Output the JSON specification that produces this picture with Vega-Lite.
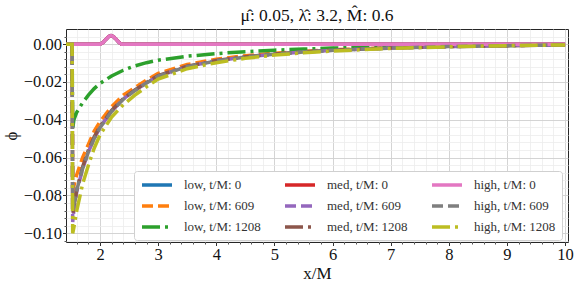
{
  "$schema": "https://vega.github.io/schema/vega-lite/v6.json",
  "width": 502,
  "height": 213,
  "autosize": "none",
  "padding": {"left": 66, "top": 29, "right": 14, "bottom": 44},
  "background": "white",
  "title": {"text": "μ̂: 0.05, λ̂: 3.2, M̂: 0.6", "font": "Liberation Serif", "fontSize": 17.5, "fontWeight": "normal", "color": "#111", "offset": 5, "anchor": "middle"},
  "config": {
    "view": {"stroke": "#262626", "strokeWidth": 1},
    "axis": {"labelFont": "Liberation Serif", "titleFont": "Liberation Serif", "labelColor": "#111", "titleColor": "#111", "titleFontWeight": "normal", "domain": false, "tickColor": "#333"}
  },
  "data": {"values": [
    {"s":"low, t/M: 0","x":1.415,"y":0},{"s":"low, t/M: 0","x":2.0,"y":0},{"s":"low, t/M: 0","x":2.05,"y":0.0008},{"s":"low, t/M: 0","x":2.1,"y":0.0025},{"s":"low, t/M: 0","x":2.15,"y":0.004},{"s":"low, t/M: 0","x":2.19,"y":0.0045},{"s":"low, t/M: 0","x":2.23,"y":0.004},{"s":"low, t/M: 0","x":2.28,"y":0.0025},{"s":"low, t/M: 0","x":2.33,"y":0.0008},{"s":"low, t/M: 0","x":2.37,"y":0},{"s":"low, t/M: 0","x":10.0,"y":0},
    {"s":"low, t/M: 609","x":1.415,"y":0},{"s":"low, t/M: 609","x":1.52,"y":0},{"s":"low, t/M: 609","x":1.53,"y":-0.080},{"s":"low, t/M: 609","x":1.55,"y":-0.075},{"s":"low, t/M: 609","x":1.6,"y":-0.069},{"s":"low, t/M: 609","x":1.7,"y":-0.060},{"s":"low, t/M: 609","x":1.8,"y":-0.053},{"s":"low, t/M: 609","x":1.9,"y":-0.046},{"s":"low, t/M: 609","x":2.0,"y":-0.041},{"s":"low, t/M: 609","x":2.2,"y":-0.033},{"s":"low, t/M: 609","x":2.4,"y":-0.027},{"s":"low, t/M: 609","x":2.6,"y":-0.023},{"s":"low, t/M: 609","x":2.8,"y":-0.019},{"s":"low, t/M: 609","x":3.0,"y":-0.0155},{"s":"low, t/M: 609","x":3.5,"y":-0.0108},{"s":"low, t/M: 609","x":4.0,"y":-0.008},{"s":"low, t/M: 609","x":4.5,"y":-0.0061},{"s":"low, t/M: 609","x":5.0,"y":-0.0048},{"s":"low, t/M: 609","x":5.5,"y":-0.0038},{"s":"low, t/M: 609","x":6.0,"y":-0.003},{"s":"low, t/M: 609","x":7.0,"y":-0.0019},{"s":"low, t/M: 609","x":8.0,"y":-0.0012},{"s":"low, t/M: 609","x":9.0,"y":-0.0007},{"s":"low, t/M: 609","x":10.0,"y":-0.0004},
    {"s":"low, t/M: 1208","x":1.415,"y":0},{"s":"low, t/M: 1208","x":1.52,"y":0},{"s":"low, t/M: 1208","x":1.53,"y":-0.045},{"s":"low, t/M: 1208","x":1.55,"y":-0.040},{"s":"low, t/M: 1208","x":1.6,"y":-0.036},{"s":"low, t/M: 1208","x":1.7,"y":-0.031},{"s":"low, t/M: 1208","x":1.8,"y":-0.027},{"s":"low, t/M: 1208","x":1.9,"y":-0.0235},{"s":"low, t/M: 1208","x":2.0,"y":-0.0208},{"s":"low, t/M: 1208","x":2.2,"y":-0.0168},{"s":"low, t/M: 1208","x":2.4,"y":-0.0138},{"s":"low, t/M: 1208","x":2.6,"y":-0.0115},{"s":"low, t/M: 1208","x":2.8,"y":-0.0098},{"s":"low, t/M: 1208","x":3.0,"y":-0.0085},{"s":"low, t/M: 1208","x":3.5,"y":-0.0064},{"s":"low, t/M: 1208","x":4.0,"y":-0.005},{"s":"low, t/M: 1208","x":4.5,"y":-0.004},{"s":"low, t/M: 1208","x":5.0,"y":-0.0032},{"s":"low, t/M: 1208","x":5.5,"y":-0.0026},{"s":"low, t/M: 1208","x":6.0,"y":-0.0021},{"s":"low, t/M: 1208","x":7.0,"y":-0.0014},{"s":"low, t/M: 1208","x":8.0,"y":-0.001},{"s":"low, t/M: 1208","x":9.0,"y":-0.0007},{"s":"low, t/M: 1208","x":10.0,"y":-0.0005},
    {"s":"med, t/M: 0","x":1.415,"y":0},{"s":"med, t/M: 0","x":2.0,"y":0},{"s":"med, t/M: 0","x":2.05,"y":0.0008},{"s":"med, t/M: 0","x":2.1,"y":0.0025},{"s":"med, t/M: 0","x":2.15,"y":0.004},{"s":"med, t/M: 0","x":2.19,"y":0.0045},{"s":"med, t/M: 0","x":2.23,"y":0.004},{"s":"med, t/M: 0","x":2.28,"y":0.0025},{"s":"med, t/M: 0","x":2.33,"y":0.0008},{"s":"med, t/M: 0","x":2.37,"y":0},{"s":"med, t/M: 0","x":10.0,"y":0},
    {"s":"med, t/M: 609","x":1.415,"y":0},{"s":"med, t/M: 609","x":1.52,"y":0},{"s":"med, t/M: 609","x":1.53,"y":-0.094},{"s":"med, t/M: 609","x":1.55,"y":-0.088},{"s":"med, t/M: 609","x":1.6,"y":-0.078},{"s":"med, t/M: 609","x":1.7,"y":-0.066},{"s":"med, t/M: 609","x":1.8,"y":-0.057},{"s":"med, t/M: 609","x":1.9,"y":-0.05},{"s":"med, t/M: 609","x":2.0,"y":-0.044},{"s":"med, t/M: 609","x":2.2,"y":-0.0355},{"s":"med, t/M: 609","x":2.4,"y":-0.029},{"s":"med, t/M: 609","x":2.6,"y":-0.0245},{"s":"med, t/M: 609","x":2.8,"y":-0.0205},{"s":"med, t/M: 609","x":3.0,"y":-0.0168},{"s":"med, t/M: 609","x":3.5,"y":-0.0118},{"s":"med, t/M: 609","x":4.0,"y":-0.0088},{"s":"med, t/M: 609","x":4.5,"y":-0.0068},{"s":"med, t/M: 609","x":5.0,"y":-0.0053},{"s":"med, t/M: 609","x":5.5,"y":-0.0042},{"s":"med, t/M: 609","x":6.0,"y":-0.0033},{"s":"med, t/M: 609","x":7.0,"y":-0.0021},{"s":"med, t/M: 609","x":8.0,"y":-0.0013},{"s":"med, t/M: 609","x":9.0,"y":-0.0008},{"s":"med, t/M: 609","x":10.0,"y":-0.0004},
    {"s":"med, t/M: 1208","x":1.415,"y":0},{"s":"med, t/M: 1208","x":1.52,"y":0},{"s":"med, t/M: 1208","x":1.53,"y":-0.09},{"s":"med, t/M: 1208","x":1.55,"y":-0.086},{"s":"med, t/M: 1208","x":1.6,"y":-0.077},{"s":"med, t/M: 1208","x":1.7,"y":-0.065},{"s":"med, t/M: 1208","x":1.8,"y":-0.056},{"s":"med, t/M: 1208","x":1.9,"y":-0.049},{"s":"med, t/M: 1208","x":2.0,"y":-0.0435},{"s":"med, t/M: 1208","x":2.2,"y":-0.035},{"s":"med, t/M: 1208","x":2.4,"y":-0.0288},{"s":"med, t/M: 1208","x":2.6,"y":-0.0242},{"s":"med, t/M: 1208","x":2.8,"y":-0.0203},{"s":"med, t/M: 1208","x":3.0,"y":-0.0166},{"s":"med, t/M: 1208","x":3.5,"y":-0.0117},{"s":"med, t/M: 1208","x":4.0,"y":-0.0087},{"s":"med, t/M: 1208","x":4.5,"y":-0.0067},{"s":"med, t/M: 1208","x":5.0,"y":-0.0052},{"s":"med, t/M: 1208","x":5.5,"y":-0.0041},{"s":"med, t/M: 1208","x":6.0,"y":-0.0032},{"s":"med, t/M: 1208","x":7.0,"y":-0.002},{"s":"med, t/M: 1208","x":8.0,"y":-0.0013},{"s":"med, t/M: 1208","x":9.0,"y":-0.0008},{"s":"med, t/M: 1208","x":10.0,"y":-0.0004},
    {"s":"high, t/M: 0","x":1.415,"y":0},{"s":"high, t/M: 0","x":2.0,"y":0},{"s":"high, t/M: 0","x":2.05,"y":0.0008},{"s":"high, t/M: 0","x":2.1,"y":0.0025},{"s":"high, t/M: 0","x":2.15,"y":0.004},{"s":"high, t/M: 0","x":2.19,"y":0.0045},{"s":"high, t/M: 0","x":2.23,"y":0.004},{"s":"high, t/M: 0","x":2.28,"y":0.0025},{"s":"high, t/M: 0","x":2.33,"y":0.0008},{"s":"high, t/M: 0","x":2.37,"y":0},{"s":"high, t/M: 0","x":10.0,"y":0},
    {"s":"high, t/M: 609","x":1.415,"y":0},{"s":"high, t/M: 609","x":1.52,"y":0},{"s":"high, t/M: 609","x":1.53,"y":-0.088},{"s":"high, t/M: 609","x":1.55,"y":-0.085},{"s":"high, t/M: 609","x":1.6,"y":-0.077},{"s":"high, t/M: 609","x":1.7,"y":-0.066},{"s":"high, t/M: 609","x":1.8,"y":-0.057},{"s":"high, t/M: 609","x":1.9,"y":-0.05},{"s":"high, t/M: 609","x":2.0,"y":-0.0442},{"s":"high, t/M: 609","x":2.2,"y":-0.0356},{"s":"high, t/M: 609","x":2.4,"y":-0.0292},{"s":"high, t/M: 609","x":2.6,"y":-0.0246},{"s":"high, t/M: 609","x":2.8,"y":-0.0206},{"s":"high, t/M: 609","x":3.0,"y":-0.0169},{"s":"high, t/M: 609","x":3.5,"y":-0.0119},{"s":"high, t/M: 609","x":4.0,"y":-0.0089},{"s":"high, t/M: 609","x":4.5,"y":-0.0068},{"s":"high, t/M: 609","x":5.0,"y":-0.0053},{"s":"high, t/M: 609","x":5.5,"y":-0.0042},{"s":"high, t/M: 609","x":6.0,"y":-0.0033},{"s":"high, t/M: 609","x":7.0,"y":-0.0021},{"s":"high, t/M: 609","x":8.0,"y":-0.0013},{"s":"high, t/M: 609","x":9.0,"y":-0.0008},{"s":"high, t/M: 609","x":10.0,"y":-0.0004},
    {"s":"high, t/M: 1208","x":1.415,"y":0},{"s":"high, t/M: 1208","x":1.52,"y":0},{"s":"high, t/M: 1208","x":1.53,"y":-0.1},{"s":"high, t/M: 1208","x":1.55,"y":-0.097},{"s":"high, t/M: 1208","x":1.6,"y":-0.088},{"s":"high, t/M: 1208","x":1.7,"y":-0.074},{"s":"high, t/M: 1208","x":1.8,"y":-0.064},{"s":"high, t/M: 1208","x":1.9,"y":-0.055},{"s":"high, t/M: 1208","x":2.0,"y":-0.048},{"s":"high, t/M: 1208","x":2.2,"y":-0.0385},{"s":"high, t/M: 1208","x":2.4,"y":-0.032},{"s":"high, t/M: 1208","x":2.6,"y":-0.027},{"s":"high, t/M: 1208","x":2.8,"y":-0.0225},{"s":"high, t/M: 1208","x":3.0,"y":-0.0185},{"s":"high, t/M: 1208","x":3.5,"y":-0.013},{"s":"high, t/M: 1208","x":4.0,"y":-0.0098},{"s":"high, t/M: 1208","x":4.5,"y":-0.0075},{"s":"high, t/M: 1208","x":5.0,"y":-0.0058},{"s":"high, t/M: 1208","x":5.5,"y":-0.0046},{"s":"high, t/M: 1208","x":6.0,"y":-0.0036},{"s":"high, t/M: 1208","x":7.0,"y":-0.0023},{"s":"high, t/M: 1208","x":8.0,"y":-0.0014},{"s":"high, t/M: 1208","x":9.0,"y":-0.0008},{"s":"high, t/M: 1208","x":10.0,"y":-0.0004}
  ]},
  "layer": [
    {
      "mark": {"type": "point", "opacity": 0},
      "encoding": {
        "x": {"field": "x", "type": "quantitative", "scale": {"domain": [1.415, 10.05], "nice": false, "zero": false},
          "axis": {"orient": "bottom", "values": [1.6,1.8,2.2,2.4,2.6,2.8,3.2,3.4,3.6,3.8,4.2,4.4,4.6,4.8,5.2,5.4,5.6,5.8,6.2,6.4,6.6,6.8,7.2,7.4,7.6,7.8,8.2,8.4,8.6,8.8,9.2,9.4,9.6,9.8], "grid": true, "gridColor": "#ececec", "gridWidth": 0.8, "labels": false, "ticks": true, "tickSize": 2, "tickColor": "#555", "title": null}},
        "y": {"field": "y", "type": "quantitative", "scale": {"domain": [-0.1046, 0.008], "nice": false, "zero": false},
          "axis": {"orient": "left", "values": [0.004,-0.004,-0.008,-0.012,-0.016,-0.024,-0.028,-0.032,-0.036,-0.044,-0.048,-0.052,-0.056,-0.064,-0.068,-0.072,-0.076,-0.084,-0.088,-0.092,-0.096,-0.104], "grid": true, "gridColor": "#ececec", "gridWidth": 0.8, "labels": false, "ticks": true, "tickSize": 2, "tickColor": "#555", "title": null}}
      }
    },
    {
      "mark": {"type": "line", "strokeWidth": 3.5, "clip": true},
      "encoding": {
        "x": {"field": "x", "type": "quantitative",
          "axis": {"orient": "bottom", "values": [2,3,4,5,6,7,8,9,10], "grid": true, "gridColor": "#cfcfcf", "gridWidth": 0.9, "tickSize": 3.5, "labelFontSize": 16.5, "labelPadding": 1, "title": "x/M", "titleFontSize": 17, "titlePadding": 2}},
        "y": {"field": "y", "type": "quantitative",
          "axis": {"orient": "left", "values": [0,-0.02,-0.04,-0.06,-0.08,-0.1], "format": ".2f", "grid": true, "gridColor": "#cfcfcf", "gridWidth": 0.9, "tickSize": 3.5, "labelFontSize": 16.5, "labelPadding": 1, "title": "ϕ", "titleFontSize": 17, "titlePadding": 3}},
        "color": {"field": "s", "type": "nominal",
          "scale": {"domain": ["low, t/M: 0","low, t/M: 609","low, t/M: 1208","med, t/M: 0","med, t/M: 609","med, t/M: 1208","high, t/M: 0","high, t/M: 609","high, t/M: 1208"],
                    "range": ["#1f77b4","#ff7f0e","#2ca02c","#d62728","#9467bd","#8c564b","#e377c2","#7f7f7f","#bcbd22"]},
          "legend": {"title": null, "orient": "none", "legendX": 68, "legendY": 142, "columns": 3, "columnPadding": 17, "rowPadding": 6, "padding": 6, "fillColor": "white", "strokeColor": "#d0d0d0", "cornerRadius": 3, "labelFont": "Liberation Serif", "labelFontSize": 13, "labelColor": "#333", "symbolType": "M-1,0H4", "symbolSize": 144, "symbolStrokeWidth": 3.5, "labelOffset": 28}},
        "strokeDash": {"field": "s", "type": "nominal",
          "scale": {"domain": ["low, t/M: 0","low, t/M: 609","low, t/M: 1208","med, t/M: 0","med, t/M: 609","med, t/M: 1208","high, t/M: 0","high, t/M: 609","high, t/M: 1208"],
                    "range": [[1,0],[11,5],[18,5,3,5],[1,0],[11,5],[18,5,3,5],[1,0],[11,5],[18,5,3,5]]},
          "legend": {"title": null, "orient": "none", "legendX": 68, "legendY": 142, "columns": 3, "columnPadding": 17, "rowPadding": 6, "padding": 6, "fillColor": "white", "strokeColor": "#d0d0d0", "cornerRadius": 3, "labelFont": "Liberation Serif", "labelFontSize": 13, "labelColor": "#333", "symbolType": "M-1,0H4", "symbolSize": 144, "symbolStrokeWidth": 3.5, "labelOffset": 28}}
      }
    }
  ],
  "resolve": {"axis": {"x": "independent", "y": "independent"}}
}
